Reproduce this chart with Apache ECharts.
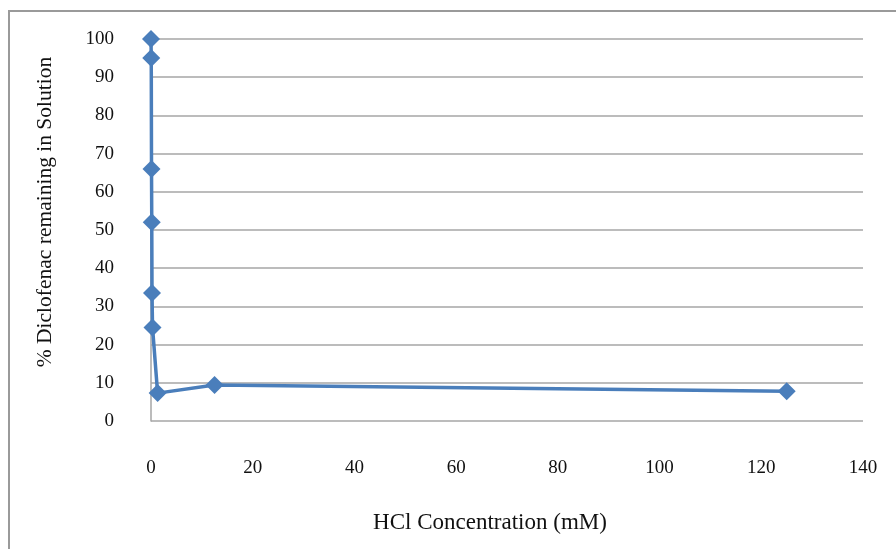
<!DOCTYPE html>
<html>
<head>
<meta charset="utf-8">
<script src="https://cdn.jsdelivr.net/npm/echarts@6/dist/echarts.min.js"></script>
<style>
  html, body { margin: 0; padding: 0; background: #fff; }
  #chart { width: 896px; height: 549px; }
</style>
</head>
<body>
<div id="chart"></div>
<script>
// HCl concentration (mM) vs % diclofenac left in solution
const hclConc = [0, 0.05, 0.1, 0.15, 0.2, 0.3, 1.3, 12.5, 125];
const remaining = [100, 95, 66, 52, 33.5, 24.5, 7.3, 9.4, 7.8];
const xTicks = [0, 20, 40, 60, 80, 100, 120, 140];
const yTicks = [0, 10, 20, 30, 40, 50, 60, 70, 80, 90, 100];

const chart = echarts.init(document.getElementById("chart"));
const font = "'Liberation Serif', 'Times New Roman', serif";

chart.setOption({
  backgroundColor: "#fff",
  animation: false,
  textStyle: { fontFamily: font },
  graphic: [
    {
      type: "rect",
      shape: { x: 9, y: 11, width: 900, height: 560 },
      style: { fill: "none", stroke: "#9a9a9a", lineWidth: 2 },
      z: -10,
    },
  ],
  grid: { left: 151, right: 33, top: 39, bottom: 128 },
  xAxis: {
    type: "value",
    min: xTicks[0],
    max: xTicks[xTicks.length - 1],
    interval: 20,
    name: "HCl Concentration (mM)",
    nameLocation: "middle",
    nameGap: 90,
    nameTextStyle: { fontFamily: font, fontSize: 23, color: "#111", padding: [0, 34, 0, 0] },
    axisLine: { show: false },
    axisTick: { show: false },
    axisLabel: { margin: 38, fontSize: 19, color: "#111", fontFamily: font },
    splitLine: { show: false },
  },
  yAxis: {
    type: "value",
    min: yTicks[0],
    max: yTicks[yTicks.length - 1],
    interval: 10,
    name: "% Diclofenac remaining in Solution",
    nameLocation: "middle",
    nameGap: 95,
    nameTextStyle: { fontFamily: font, fontSize: 21.5, color: "#111", padding: [0, 0, 0, 36] },
    axisLine: { show: true, lineStyle: { color: "#a6a6a6", width: 1.5 } },
    axisTick: { show: false },
    axisLabel: { margin: 37, fontSize: 19, color: "#111", fontFamily: font },
    splitLine: { show: true, lineStyle: { color: "#a6a6a6", width: 1.5 } },
  },
  series: [
    {
      type: "line",
      data: hclConc.map((x, i) => [x, remaining[i]]),
      symbol: "diamond",
      symbolSize: 18,
      lineStyle: { color: "#4a7ebb", width: 3.5 },
      itemStyle: { color: "#4a7ebb" },
      z: 5,
    },
  ],
});
</script>
</body>
</html>
